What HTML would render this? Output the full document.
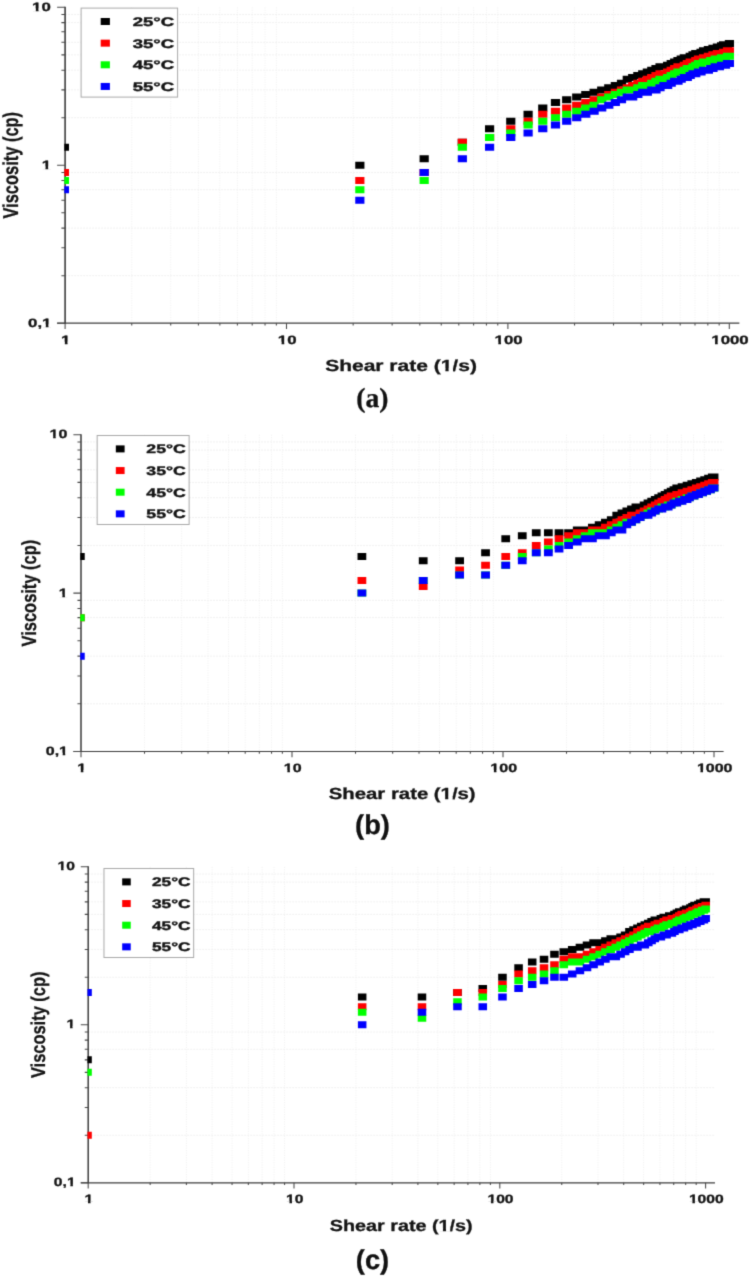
<!DOCTYPE html>
<html lang="en"><head><meta charset="utf-8">
<title>Viscosity versus shear rate</title>
<style>html,body{margin:0;padding:0;background:#fff}body{width:750px;height:1278px;overflow:hidden}svg{display:block}text{text-rendering:geometricPrecision}</style>
</head><body>
<svg width="750" height="1278" viewBox="0 0 750 1278" role="img" aria-label="Viscosity versus shear rate at 25, 35, 45 and 55 degrees C">
<defs><filter id="soft" x="0" y="0" width="750" height="1278" filterUnits="userSpaceOnUse" color-interpolation-filters="sRGB"><feConvolveMatrix order="3" kernelMatrix="0.0367 0.1915 0.0367 0.1915 1.0000 0.1915 0.0367 0.1915 0.0367" divisor="1.9127" edgeMode="duplicate" preserveAlpha="true"/></filter></defs>
<g filter="url(#soft)">
<rect width="750" height="1278" fill="#ffffff"/>
<g id="panel-a">
<path d="M131.75 7.3V323.2M170.73 7.3V323.2M198.4 7.3V323.2M219.85 7.3V323.2M237.38 7.3V323.2M252.2 7.3V323.2M265.04 7.3V323.2M276.37 7.3V323.2M353.15 7.3V323.2M392.13 7.3V323.2M419.8 7.3V323.2M441.25 7.3V323.2M458.78 7.3V323.2M473.6 7.3V323.2M486.44 7.3V323.2M497.77 7.3V323.2M574.55 7.3V323.2M613.53 7.3V323.2M641.2 7.3V323.2M662.65 7.3V323.2M680.18 7.3V323.2M695 7.3V323.2M707.84 7.3V323.2M719.17 7.3V323.2" stroke="#f2f2f2" stroke-width="1" stroke-dasharray="1.2 1.2" fill="none"/>
<path d="M65.1 14.53H739.37M65.1 22.61H739.37M65.1 42.34H739.37M65.1 54.85H739.37M65.1 70.15H739.37M65.1 89.89H739.37M65.1 117.7H739.37M65.1 172.48H739.37M65.1 189.72H739.37M65.1 228.1H739.37M65.1 275.65H739.37" stroke="#f1f1f1" stroke-width="1" stroke-dasharray="2 1" fill="none"/>
<path d="M65.1 6.8V323.7" stroke="#3c3c3c" stroke-width="1.6" fill="none"/>
<path d="M57.1 323.2H739.37" stroke="#3c3c3c" stroke-width="1.2" fill="none"/>
<path d="M65.1 323.2h-8M65.1 275.65h-3.7M65.1 247.84h-3.7M65.1 228.1h-3.7M65.1 212.8h-3.7M65.1 200.29h-3.7M65.1 189.72h-3.7M65.1 180.56h-3.7M65.1 172.48h-3.7M65.1 165.25h-8M65.1 117.7h-3.7M65.1 89.89h-3.7M65.1 70.15h-3.7M65.1 54.85h-3.7M65.1 42.34h-3.7M65.1 31.77h-3.7M65.1 22.61h-3.7M65.1 14.53h-3.7M65.1 7.3h-8M65.1 323.2v5.8M131.75 323.2v2.3M170.73 323.2v2.3M198.4 323.2v2.3M219.85 323.2v2.3M237.38 323.2v2.3M252.2 323.2v2.3M265.04 323.2v2.3M276.37 323.2v2.3M286.5 323.2v5.8M353.15 323.2v2.3M392.13 323.2v2.3M419.8 323.2v2.3M441.25 323.2v2.3M458.78 323.2v2.3M473.6 323.2v2.3M486.44 323.2v2.3M497.77 323.2v2.3M507.9 323.2v5.8M574.55 323.2v2.3M613.53 323.2v2.3M641.2 323.2v2.3M662.65 323.2v2.3M680.18 323.2v2.3M695 323.2v2.3M707.84 323.2v2.3M719.17 323.2v2.3M729.3 323.2v5.8" stroke="#484848" stroke-width="1.05" fill="none"/>
<clipPath id="clip-a"><rect x="64.3" y="-2.7" width="704.27" height="325.9"/></clipPath>
<g clip-path="url(#clip-a)">
<path d="M59.8 143.75h9.2v7h-9.2zM355.24 161.75h9.2v7h-9.2zM419.58 155.21h9.2v7h-9.2zM457.75 138.67h9.2v7h-9.2zM484.98 125.35h9.2v7h-9.2zM506.17 117.72h9.2v7h-9.2zM523.5 110.86h9.2v7h-9.2zM538.17 104.62h9.2v7h-9.2zM550.88 98.9h9.2v7h-9.2zM562.1 96.2h9.2v7h-9.2zM572.13 93.62h9.2v7h-9.2zM581.21 91.12h9.2v7h-9.2zM589.5 88.71h9.2v7h-9.2zM597.13 86.39h9.2v7h-9.2zM604.18 84.14h9.2v7h-9.2zM610.75 81.96h9.2v7h-9.2zM616.9 79.85h9.2v7h-9.2zM622.67 75.81h9.2v7h-9.2zM628.1 73.88h9.2v7h-9.2zM633.25 72h9.2v7h-9.2zM638.12 70.17h9.2v7h-9.2zM642.76 68.39h9.2v7h-9.2zM647.18 66.65h9.2v7h-9.2zM651.4 64.96h9.2v7h-9.2zM655.44 63.31h9.2v7h-9.2zM659.32 63.31h9.2v7h-9.2zM663.04 61.69h9.2v7h-9.2zM666.62 60.12h9.2v7h-9.2zM670.07 58.58h9.2v7h-9.2zM673.39 57.07h9.2v7h-9.2zM676.6 55.59h9.2v7h-9.2zM679.71 54.15h9.2v7h-9.2zM682.71 54.15h9.2v7h-9.2zM685.62 52.73h9.2v7h-9.2zM688.45 51.35h9.2v7h-9.2zM691.19 49.99h9.2v7h-9.2zM693.85 49.99h9.2v7h-9.2zM696.44 48.66h9.2v7h-9.2zM698.96 47.35h9.2v7h-9.2zM701.41 47.35h9.2v7h-9.2zM703.8 46.07h9.2v7h-9.2zM706.12 46.07h9.2v7h-9.2zM708.39 44.81h9.2v7h-9.2zM710.61 44.81h9.2v7h-9.2zM712.78 43.57h9.2v7h-9.2zM714.89 43.57h9.2v7h-9.2zM716.96 42.36h9.2v7h-9.2zM718.98 41.17h9.2v7h-9.2zM720.96 41.17h9.2v7h-9.2zM722.9 41.17h9.2v7h-9.2zM724.8 39.99h9.2v7h-9.2z" fill="#000000"/>
<path d="M59.8 168.98h9.2v7h-9.2zM355.24 177.06h9.2v7h-9.2zM419.58 168.98h9.2v7h-9.2zM457.75 138.67h9.2v7h-9.2zM484.98 133.94h9.2v7h-9.2zM506.17 125.35h9.2v7h-9.2zM523.5 117.72h9.2v7h-9.2zM538.17 110.86h9.2v7h-9.2zM550.88 107.66h9.2v7h-9.2zM562.1 104.62h9.2v7h-9.2zM572.13 101.7h9.2v7h-9.2zM581.21 98.9h9.2v7h-9.2zM589.5 96.2h9.2v7h-9.2zM597.13 93.62h9.2v7h-9.2zM604.18 91.12h9.2v7h-9.2zM610.75 88.71h9.2v7h-9.2zM616.9 86.39h9.2v7h-9.2zM622.67 84.14h9.2v7h-9.2zM628.1 81.96h9.2v7h-9.2zM633.25 79.85h9.2v7h-9.2zM638.12 77.8h9.2v7h-9.2zM642.76 75.81h9.2v7h-9.2zM647.18 73.88h9.2v7h-9.2zM651.4 72h9.2v7h-9.2zM655.44 70.17h9.2v7h-9.2zM659.32 70.17h9.2v7h-9.2zM663.04 68.39h9.2v7h-9.2zM666.62 66.65h9.2v7h-9.2zM670.07 64.96h9.2v7h-9.2zM673.39 63.31h9.2v7h-9.2zM676.6 63.31h9.2v7h-9.2zM679.71 61.69h9.2v7h-9.2zM682.71 60.12h9.2v7h-9.2zM685.62 58.58h9.2v7h-9.2zM688.45 58.58h9.2v7h-9.2zM691.19 57.07h9.2v7h-9.2zM693.85 55.59h9.2v7h-9.2zM696.44 55.59h9.2v7h-9.2zM698.96 54.15h9.2v7h-9.2zM701.41 54.15h9.2v7h-9.2zM703.8 52.73h9.2v7h-9.2zM706.12 52.73h9.2v7h-9.2zM708.39 51.35h9.2v7h-9.2zM710.61 51.35h9.2v7h-9.2zM712.78 49.99h9.2v7h-9.2zM714.89 49.99h9.2v7h-9.2zM716.96 49.99h9.2v7h-9.2zM718.98 48.66h9.2v7h-9.2zM720.96 48.66h9.2v7h-9.2zM722.9 47.35h9.2v7h-9.2zM724.8 47.35h9.2v7h-9.2z" fill="#ff0000"/>
<path d="M59.8 177.06h9.2v7h-9.2zM355.24 186.22h9.2v7h-9.2zM419.58 177.06h9.2v7h-9.2zM457.75 143.75h9.2v7h-9.2zM484.98 133.94h9.2v7h-9.2zM506.17 129.51h9.2v7h-9.2zM523.5 121.43h9.2v7h-9.2zM538.17 117.72h9.2v7h-9.2zM550.88 114.2h9.2v7h-9.2zM562.1 110.86h9.2v7h-9.2zM572.13 107.66h9.2v7h-9.2zM581.21 104.62h9.2v7h-9.2zM589.5 101.7h9.2v7h-9.2zM597.13 96.2h9.2v7h-9.2zM604.18 93.62h9.2v7h-9.2zM610.75 91.12h9.2v7h-9.2zM616.9 88.71h9.2v7h-9.2zM622.67 86.39h9.2v7h-9.2zM628.1 86.39h9.2v7h-9.2zM633.25 84.14h9.2v7h-9.2zM638.12 81.96h9.2v7h-9.2zM642.76 81.96h9.2v7h-9.2zM647.18 79.85h9.2v7h-9.2zM651.4 77.8h9.2v7h-9.2zM655.44 75.81h9.2v7h-9.2zM659.32 75.81h9.2v7h-9.2zM663.04 73.88h9.2v7h-9.2zM666.62 72h9.2v7h-9.2zM670.07 70.17h9.2v7h-9.2zM673.39 68.39h9.2v7h-9.2zM676.6 68.39h9.2v7h-9.2zM679.71 66.65h9.2v7h-9.2zM682.71 64.96h9.2v7h-9.2zM685.62 64.96h9.2v7h-9.2zM688.45 63.31h9.2v7h-9.2zM691.19 61.69h9.2v7h-9.2zM693.85 60.12h9.2v7h-9.2zM696.44 60.12h9.2v7h-9.2zM698.96 58.58h9.2v7h-9.2zM701.41 58.58h9.2v7h-9.2zM703.8 58.58h9.2v7h-9.2zM706.12 57.07h9.2v7h-9.2zM708.39 57.07h9.2v7h-9.2zM710.61 55.59h9.2v7h-9.2zM712.78 55.59h9.2v7h-9.2zM714.89 55.59h9.2v7h-9.2zM716.96 54.15h9.2v7h-9.2zM718.98 54.15h9.2v7h-9.2zM720.96 54.15h9.2v7h-9.2zM722.9 52.73h9.2v7h-9.2zM724.8 52.73h9.2v7h-9.2z" fill="#00ff00"/>
<path d="M59.8 186.22h9.2v7h-9.2zM355.24 196.79h9.2v7h-9.2zM419.58 168.98h9.2v7h-9.2zM457.75 155.21h9.2v7h-9.2zM484.98 143.75h9.2v7h-9.2zM506.17 133.94h9.2v7h-9.2zM523.5 129.51h9.2v7h-9.2zM538.17 125.35h9.2v7h-9.2zM550.88 121.43h9.2v7h-9.2zM562.1 117.72h9.2v7h-9.2zM572.13 114.2h9.2v7h-9.2zM581.21 110.86h9.2v7h-9.2zM589.5 107.66h9.2v7h-9.2zM597.13 104.62h9.2v7h-9.2zM604.18 101.7h9.2v7h-9.2zM610.75 98.9h9.2v7h-9.2zM616.9 96.2h9.2v7h-9.2zM622.67 93.62h9.2v7h-9.2zM628.1 93.62h9.2v7h-9.2zM633.25 91.12h9.2v7h-9.2zM638.12 88.71h9.2v7h-9.2zM642.76 88.71h9.2v7h-9.2zM647.18 86.39h9.2v7h-9.2zM651.4 86.39h9.2v7h-9.2zM655.44 84.14h9.2v7h-9.2zM659.32 81.96h9.2v7h-9.2zM663.04 81.96h9.2v7h-9.2zM666.62 79.85h9.2v7h-9.2zM670.07 77.8h9.2v7h-9.2zM673.39 77.8h9.2v7h-9.2zM676.6 75.81h9.2v7h-9.2zM679.71 73.88h9.2v7h-9.2zM682.71 73.88h9.2v7h-9.2zM685.62 72h9.2v7h-9.2zM688.45 70.17h9.2v7h-9.2zM691.19 70.17h9.2v7h-9.2zM693.85 68.39h9.2v7h-9.2zM696.44 68.39h9.2v7h-9.2zM698.96 66.65h9.2v7h-9.2zM701.41 66.65h9.2v7h-9.2zM703.8 66.65h9.2v7h-9.2zM706.12 64.96h9.2v7h-9.2zM708.39 64.96h9.2v7h-9.2zM710.61 63.31h9.2v7h-9.2zM712.78 63.31h9.2v7h-9.2zM714.89 63.31h9.2v7h-9.2zM716.96 61.69h9.2v7h-9.2zM718.98 61.69h9.2v7h-9.2zM720.96 61.69h9.2v7h-9.2zM722.9 60.12h9.2v7h-9.2zM724.8 60.12h9.2v7h-9.2z" fill="#0000ff"/>
</g>
<text transform="translate(50.8 10.7) scale(1.4 1)" font-family='"Liberation Sans", Arial, Helvetica, sans-serif' font-size="12" font-weight="700" text-anchor="end" fill="#141414" stroke="#141414" stroke-width="0.3" stroke-linejoin="round">10</text><path transform="translate(50.8 10.7) scale(1.4 1)" d="M-13.54 -2.12H-10.70V1.15H-13.54zM-8.75 -2.12H-6.06V1.15H-8.75z" fill="#ffffff"/>
<text transform="translate(51.1 168.65) scale(1.4 1)" font-family='"Liberation Sans", Arial, Helvetica, sans-serif' font-size="12" font-weight="700" text-anchor="end" fill="#141414" stroke="#141414" stroke-width="0.3" stroke-linejoin="round">1</text><path transform="translate(51.1 168.65) scale(1.4 1)" d="M-6.87 -2.12H-4.02V1.15H-6.87zM-2.08 -2.12H0.62V1.15H-2.08z" fill="#ffffff"/>
<text transform="translate(51.4 326.6) scale(1.4 1)" font-family='"Liberation Sans", Arial, Helvetica, sans-serif' font-size="12" font-weight="700" text-anchor="end" fill="#141414" stroke="#141414" stroke-width="0.3" stroke-linejoin="round">0,1</text><path transform="translate(51.4 326.6) scale(1.4 1)" d="M-6.87 -2.12H-4.02V1.15H-6.87zM-2.08 -2.12H0.62V1.15H-2.08z" fill="#ffffff"/>
<text transform="translate(65.8 343.75) scale(1.4 1)" font-family='"Liberation Sans", Arial, Helvetica, sans-serif' font-size="12" font-weight="700" text-anchor="middle" fill="#141414" stroke="#141414" stroke-width="0.3" stroke-linejoin="round">1</text><path transform="translate(65.8 343.75) scale(1.4 1)" d="M-3.53 -2.12H-0.69V1.15H-3.53zM1.26 -2.12H3.95V1.15H1.26z" fill="#ffffff"/>
<text transform="translate(287.2 343.75) scale(1.4 1)" font-family='"Liberation Sans", Arial, Helvetica, sans-serif' font-size="12" font-weight="700" text-anchor="middle" fill="#141414" stroke="#141414" stroke-width="0.3" stroke-linejoin="round">10</text><path transform="translate(287.2 343.75) scale(1.4 1)" d="M-6.87 -2.12H-4.02V1.15H-6.87zM-2.08 -2.12H0.62V1.15H-2.08z" fill="#ffffff"/>
<text transform="translate(508.6 343.75) scale(1.4 1)" font-family='"Liberation Sans", Arial, Helvetica, sans-serif' font-size="12" font-weight="700" text-anchor="middle" fill="#141414" stroke="#141414" stroke-width="0.3" stroke-linejoin="round">100</text><path transform="translate(508.6 343.75) scale(1.4 1)" d="M-10.20 -2.12H-7.36V1.15H-10.20zM-5.41 -2.12H-2.72V1.15H-5.41z" fill="#ffffff"/>
<text transform="translate(730 343.75) scale(1.4 1)" font-family='"Liberation Sans", Arial, Helvetica, sans-serif' font-size="12" font-weight="700" text-anchor="middle" fill="#141414" stroke="#141414" stroke-width="0.3" stroke-linejoin="round">1000</text><path transform="translate(730 343.75) scale(1.4 1)" d="M-13.54 -2.12H-10.70V1.15H-13.54zM-8.75 -2.12H-6.06V1.15H-8.75z" fill="#ffffff"/>
<text transform="translate(401 371.1) scale(1.3125 1)" font-family='"Liberation Sans", Arial, Helvetica, sans-serif' font-size="16" font-weight="700" text-anchor="middle" fill="#141414" stroke="#141414" stroke-width="0.3" stroke-linejoin="round">Shear rate (1/s)</text><path transform="translate(401 371.1) scale(1.3125 1)" d="M30.29 -2.53H33.82V1.15H30.29zM36.31 -2.53H39.64V1.15H36.31z" fill="#ffffff"/>
<text transform="translate(18.1 165.25) rotate(-90) scale(1 1.31)" font-family='"Liberation Sans", Arial, Helvetica, sans-serif' font-size="16.45" font-weight="700" text-anchor="middle" fill="#141414" stroke="#141414" stroke-width="0.25" stroke-linejoin="round">Viscosity (cp)</text>
<rect x="81.1" y="8.1" width="96.5" height="89" fill="#ffffff" stroke="#a9a9a9" stroke-width="1"/>
<rect x="100.7" y="18" width="9.2" height="7" fill="#000000"/>
<text transform="translate(132.7 25.9) scale(1.498 1)" font-family='"Liberation Sans", Arial, Helvetica, sans-serif' font-size="12.4" font-weight="700" text-anchor="start" fill="#141414" stroke="#141414" stroke-width="0.4" stroke-linejoin="round">25°C</text>
<rect x="100.7" y="39.65" width="9.2" height="7" fill="#ff0000"/>
<text transform="translate(132.7 47.55) scale(1.498 1)" font-family='"Liberation Sans", Arial, Helvetica, sans-serif' font-size="12.4" font-weight="700" text-anchor="start" fill="#141414" stroke="#141414" stroke-width="0.4" stroke-linejoin="round">35°C</text>
<rect x="100.7" y="61.3" width="9.2" height="7" fill="#00ff00"/>
<text transform="translate(132.7 69.2) scale(1.498 1)" font-family='"Liberation Sans", Arial, Helvetica, sans-serif' font-size="12.4" font-weight="700" text-anchor="start" fill="#141414" stroke="#141414" stroke-width="0.4" stroke-linejoin="round">45°C</text>
<rect x="100.7" y="82.95" width="9.2" height="7" fill="#0000ff"/>
<text transform="translate(132.7 90.85) scale(1.498 1)" font-family='"Liberation Sans", Arial, Helvetica, sans-serif' font-size="12.4" font-weight="700" text-anchor="start" fill="#141414" stroke="#141414" stroke-width="0.4" stroke-linejoin="round">55°C</text>
<text transform="translate(372.4 407.1)" font-family='"Liberation Serif", "Times New Roman", Times, serif' font-size="27.6" font-weight="700" text-anchor="middle" fill="#111" stroke="#111" stroke-width="0.3" stroke-linejoin="round">(a)</text>
</g>
<g id="panel-b">
<path d="M144.52 434.7V751.5M181.67 434.7V751.5M208.03 434.7V751.5M228.48 434.7V751.5M245.19 434.7V751.5M259.32 434.7V751.5M271.55 434.7V751.5M282.35 434.7V751.5M355.52 434.7V751.5M392.67 434.7V751.5M419.03 434.7V751.5M439.48 434.7V751.5M456.19 434.7V751.5M470.32 434.7V751.5M482.55 434.7V751.5M493.35 434.7V751.5M566.52 434.7V751.5M603.67 434.7V751.5M630.03 434.7V751.5M650.48 434.7V751.5M667.19 434.7V751.5M681.32 434.7V751.5M693.55 434.7V751.5M704.35 434.7V751.5" stroke="#f2f2f2" stroke-width="1" stroke-dasharray="1.2 1.2" fill="none"/>
<path d="M81 441.95H723.6M81 450.05H723.6M81 469.84H723.6M81 482.38H723.6M81 497.73H723.6M81 517.52H723.6M81 545.42H723.6M81 600.35H723.6M81 617.64H723.6M81 656.13H723.6M81 703.82H723.6" stroke="#f1f1f1" stroke-width="1" stroke-dasharray="2 1" fill="none"/>
<path d="M81 434.2V752" stroke="#3c3c3c" stroke-width="1.52" fill="none"/>
<path d="M73.38 751.5H723.6" stroke="#3c3c3c" stroke-width="1.2" fill="none"/>
<path d="M81 751.5h-7.62M81 703.82h-3.53M81 675.92h-3.53M81 656.13h-3.53M81 640.78h-3.53M81 628.24h-3.53M81 617.64h-3.53M81 608.45h-3.53M81 600.35h-3.53M81 593.1h-7.62M81 545.42h-3.53M81 517.52h-3.53M81 497.73h-3.53M81 482.38h-3.53M81 469.84h-3.53M81 459.24h-3.53M81 450.05h-3.53M81 441.95h-3.53M81 434.7h-7.62M81 751.5v5.8M144.52 751.5v2.3M181.67 751.5v2.3M208.03 751.5v2.3M228.48 751.5v2.3M245.19 751.5v2.3M259.32 751.5v2.3M271.55 751.5v2.3M282.35 751.5v2.3M292 751.5v5.8M355.52 751.5v2.3M392.67 751.5v2.3M419.03 751.5v2.3M439.48 751.5v2.3M456.19 751.5v2.3M470.32 751.5v2.3M482.55 751.5v2.3M493.35 751.5v2.3M503 751.5v5.8M566.52 751.5v2.3M603.67 751.5v2.3M630.03 751.5v2.3M650.48 751.5v2.3M667.19 751.5v2.3M681.32 751.5v2.3M693.55 751.5v2.3M704.35 751.5v2.3M714 751.5v5.8" stroke="#484848" stroke-width="1.05" fill="none"/>
<clipPath id="clip-b"><rect x="80.24" y="424.7" width="672.6" height="326.8"/></clipPath>
<g clip-path="url(#clip-b)">
<path d="M75.95 553.1h8.77v7h-8.77zM357.51 553.1h8.77v7h-8.77zM418.82 557.27h8.77v7h-8.77zM455.21 557.27h8.77v7h-8.77zM481.16 549.16h8.77v7h-8.77zM501.35 535.36h8.77v7h-8.77zM517.87 532.3h8.77v7h-8.77zM531.85 529.37h8.77v7h-8.77zM543.96 529.37h8.77v7h-8.77zM554.65 529.37h8.77v7h-8.77zM564.22 529.37h8.77v7h-8.77zM572.87 526.57h8.77v7h-8.77zM580.77 526.57h8.77v7h-8.77zM588.03 523.87h8.77v7h-8.77zM594.76 521.27h8.77v7h-8.77zM601.02 518.77h8.77v7h-8.77zM606.88 516.36h8.77v7h-8.77zM612.37 511.77h8.77v7h-8.77zM617.56 509.58h8.77v7h-8.77zM622.46 507.47h8.77v7h-8.77zM627.11 505.41h8.77v7h-8.77zM631.52 503.42h8.77v7h-8.77zM635.74 503.42h8.77v7h-8.77zM639.76 501.48h8.77v7h-8.77zM643.61 499.6h8.77v7h-8.77zM647.3 497.76h8.77v7h-8.77zM650.85 495.98h8.77v7h-8.77zM654.26 494.23h8.77v7h-8.77zM657.55 492.54h8.77v7h-8.77zM660.72 490.88h8.77v7h-8.77zM663.78 489.26h8.77v7h-8.77zM666.74 487.68h8.77v7h-8.77zM669.6 486.13h8.77v7h-8.77zM672.38 484.62h8.77v7h-8.77zM675.07 484.62h8.77v7h-8.77zM677.68 483.14h8.77v7h-8.77zM680.22 483.14h8.77v7h-8.77zM682.68 481.69h8.77v7h-8.77zM685.08 481.69h8.77v7h-8.77zM687.42 480.27h8.77v7h-8.77zM689.69 480.27h8.77v7h-8.77zM691.91 478.88h8.77v7h-8.77zM694.08 478.88h8.77v7h-8.77zM696.19 477.52h8.77v7h-8.77zM698.25 477.52h8.77v7h-8.77zM700.27 476.19h8.77v7h-8.77zM702.24 476.19h8.77v7h-8.77zM704.17 474.87h8.77v7h-8.77zM706.05 474.87h8.77v7h-8.77zM707.9 473.59h8.77v7h-8.77zM709.71 473.59h8.77v7h-8.77z" fill="#000000"/>
<path d="M75.95 614.14h8.77v7h-8.77zM357.51 577.06h8.77v7h-8.77zM418.82 583.04h8.77v7h-8.77zM455.21 566.45h8.77v7h-8.77zM481.16 561.71h8.77v7h-8.77zM501.35 553.1h8.77v7h-8.77zM517.87 549.16h8.77v7h-8.77zM531.85 541.92h8.77v7h-8.77zM543.96 538.56h8.77v7h-8.77zM554.65 535.36h8.77v7h-8.77zM564.22 532.3h8.77v7h-8.77zM572.87 529.37h8.77v7h-8.77zM580.77 529.37h8.77v7h-8.77zM588.03 526.57h8.77v7h-8.77zM594.76 526.57h8.77v7h-8.77zM601.02 523.87h8.77v7h-8.77zM606.88 521.27h8.77v7h-8.77zM612.37 518.77h8.77v7h-8.77zM617.56 516.36h8.77v7h-8.77zM622.46 514.02h8.77v7h-8.77zM627.11 511.77h8.77v7h-8.77zM631.52 511.77h8.77v7h-8.77zM635.74 509.58h8.77v7h-8.77zM639.76 507.47h8.77v7h-8.77zM643.61 505.41h8.77v7h-8.77zM647.3 503.42h8.77v7h-8.77zM650.85 501.48h8.77v7h-8.77zM654.26 499.6h8.77v7h-8.77zM657.55 497.76h8.77v7h-8.77zM660.72 495.98h8.77v7h-8.77zM663.78 494.23h8.77v7h-8.77zM666.74 492.54h8.77v7h-8.77zM669.6 492.54h8.77v7h-8.77zM672.38 490.88h8.77v7h-8.77zM675.07 490.88h8.77v7h-8.77zM677.68 489.26h8.77v7h-8.77zM680.22 489.26h8.77v7h-8.77zM682.68 487.68h8.77v7h-8.77zM685.08 487.68h8.77v7h-8.77zM687.42 486.13h8.77v7h-8.77zM689.69 486.13h8.77v7h-8.77zM691.91 484.62h8.77v7h-8.77zM694.08 484.62h8.77v7h-8.77zM696.19 483.14h8.77v7h-8.77zM698.25 483.14h8.77v7h-8.77zM700.27 481.69h8.77v7h-8.77zM702.24 481.69h8.77v7h-8.77zM704.17 480.27h8.77v7h-8.77zM706.05 480.27h8.77v7h-8.77zM707.9 478.88h8.77v7h-8.77zM709.71 478.88h8.77v7h-8.77z" fill="#ff0000"/>
<path d="M75.95 614.14h8.77v7h-8.77zM357.51 589.6h8.77v7h-8.77zM418.82 577.06h8.77v7h-8.77zM455.21 571.55h8.77v7h-8.77zM481.16 571.55h8.77v7h-8.77zM501.35 561.71h8.77v7h-8.77zM517.87 553.1h8.77v7h-8.77zM531.85 549.16h8.77v7h-8.77zM543.96 545.45h8.77v7h-8.77zM554.65 541.92h8.77v7h-8.77zM564.22 538.56h8.77v7h-8.77zM572.87 535.36h8.77v7h-8.77zM580.77 532.3h8.77v7h-8.77zM588.03 529.37h8.77v7h-8.77zM594.76 529.37h8.77v7h-8.77zM601.02 529.37h8.77v7h-8.77zM606.88 526.57h8.77v7h-8.77zM612.37 523.87h8.77v7h-8.77zM617.56 521.27h8.77v7h-8.77zM622.46 518.77h8.77v7h-8.77zM627.11 518.77h8.77v7h-8.77zM631.52 516.36h8.77v7h-8.77zM635.74 514.02h8.77v7h-8.77zM639.76 511.77h8.77v7h-8.77zM643.61 509.58h8.77v7h-8.77zM647.3 507.47h8.77v7h-8.77zM650.85 507.47h8.77v7h-8.77zM654.26 505.41h8.77v7h-8.77zM657.55 503.42h8.77v7h-8.77zM660.72 503.42h8.77v7h-8.77zM663.78 501.48h8.77v7h-8.77zM666.74 501.48h8.77v7h-8.77zM669.6 499.6h8.77v7h-8.77zM672.38 497.76h8.77v7h-8.77zM675.07 497.76h8.77v7h-8.77zM677.68 495.98h8.77v7h-8.77zM680.22 495.98h8.77v7h-8.77zM682.68 494.23h8.77v7h-8.77zM685.08 494.23h8.77v7h-8.77zM687.42 492.54h8.77v7h-8.77zM689.69 492.54h8.77v7h-8.77zM691.91 490.88h8.77v7h-8.77zM694.08 490.88h8.77v7h-8.77zM696.19 489.26h8.77v7h-8.77zM698.25 489.26h8.77v7h-8.77zM700.27 487.68h8.77v7h-8.77zM702.24 487.68h8.77v7h-8.77zM704.17 486.13h8.77v7h-8.77zM706.05 486.13h8.77v7h-8.77zM707.9 484.62h8.77v7h-8.77zM709.71 484.62h8.77v7h-8.77z" fill="#00ff00"/>
<path d="M75.95 652.63h8.77v7h-8.77zM357.51 589.6h8.77v7h-8.77zM418.82 577.06h8.77v7h-8.77zM455.21 571.55h8.77v7h-8.77zM481.16 571.55h8.77v7h-8.77zM501.35 561.71h8.77v7h-8.77zM517.87 557.27h8.77v7h-8.77zM531.85 549.16h8.77v7h-8.77zM543.96 549.16h8.77v7h-8.77zM554.65 545.45h8.77v7h-8.77zM564.22 541.92h8.77v7h-8.77zM572.87 538.56h8.77v7h-8.77zM580.77 535.36h8.77v7h-8.77zM588.03 535.36h8.77v7h-8.77zM594.76 532.3h8.77v7h-8.77zM601.02 532.3h8.77v7h-8.77zM606.88 529.37h8.77v7h-8.77zM612.37 526.57h8.77v7h-8.77zM617.56 526.57h8.77v7h-8.77zM622.46 521.27h8.77v7h-8.77zM627.11 518.77h8.77v7h-8.77zM631.52 516.36h8.77v7h-8.77zM635.74 514.02h8.77v7h-8.77zM639.76 511.77h8.77v7h-8.77zM643.61 511.77h8.77v7h-8.77zM647.3 509.58h8.77v7h-8.77zM650.85 507.47h8.77v7h-8.77zM654.26 505.41h8.77v7h-8.77zM657.55 505.41h8.77v7h-8.77zM660.72 503.42h8.77v7h-8.77zM663.78 503.42h8.77v7h-8.77zM666.74 501.48h8.77v7h-8.77zM669.6 499.6h8.77v7h-8.77zM672.38 499.6h8.77v7h-8.77zM675.07 497.76h8.77v7h-8.77zM677.68 497.76h8.77v7h-8.77zM680.22 495.98h8.77v7h-8.77zM682.68 495.98h8.77v7h-8.77zM685.08 494.23h8.77v7h-8.77zM687.42 492.54h8.77v7h-8.77zM689.69 492.54h8.77v7h-8.77zM691.91 490.88h8.77v7h-8.77zM694.08 490.88h8.77v7h-8.77zM696.19 489.26h8.77v7h-8.77zM698.25 489.26h8.77v7h-8.77zM700.27 487.68h8.77v7h-8.77zM702.24 487.68h8.77v7h-8.77zM704.17 486.13h8.77v7h-8.77zM706.05 486.13h8.77v7h-8.77zM707.9 484.62h8.77v7h-8.77zM709.71 484.62h8.77v7h-8.77z" fill="#0000ff"/>
</g>
<text transform="translate(67.42 438.1) scale(1.3342 1)" font-family='"Liberation Sans", Arial, Helvetica, sans-serif' font-size="12" font-weight="700" text-anchor="end" fill="#141414" stroke="#141414" stroke-width="0.3" stroke-linejoin="round">10</text><path transform="translate(67.42 438.1) scale(1.3342 1)" d="M-13.54 -2.12H-10.70V1.15H-13.54zM-8.75 -2.12H-6.06V1.15H-8.75z" fill="#ffffff"/>
<text transform="translate(67.72 596.5) scale(1.3342 1)" font-family='"Liberation Sans", Arial, Helvetica, sans-serif' font-size="12" font-weight="700" text-anchor="end" fill="#141414" stroke="#141414" stroke-width="0.3" stroke-linejoin="round">1</text><path transform="translate(67.72 596.5) scale(1.3342 1)" d="M-6.87 -2.12H-4.02V1.15H-6.87zM-2.08 -2.12H0.62V1.15H-2.08z" fill="#ffffff"/>
<text transform="translate(68.02 754.9) scale(1.3342 1)" font-family='"Liberation Sans", Arial, Helvetica, sans-serif' font-size="12" font-weight="700" text-anchor="end" fill="#141414" stroke="#141414" stroke-width="0.3" stroke-linejoin="round">0,1</text><path transform="translate(68.02 754.9) scale(1.3342 1)" d="M-6.87 -2.12H-4.02V1.15H-6.87zM-2.08 -2.12H0.62V1.15H-2.08z" fill="#ffffff"/>
<text transform="translate(81.7 772.05) scale(1.3342 1)" font-family='"Liberation Sans", Arial, Helvetica, sans-serif' font-size="12" font-weight="700" text-anchor="middle" fill="#141414" stroke="#141414" stroke-width="0.3" stroke-linejoin="round">1</text><path transform="translate(81.7 772.05) scale(1.3342 1)" d="M-3.53 -2.12H-0.69V1.15H-3.53zM1.26 -2.12H3.95V1.15H1.26z" fill="#ffffff"/>
<text transform="translate(292.7 772.05) scale(1.3342 1)" font-family='"Liberation Sans", Arial, Helvetica, sans-serif' font-size="12" font-weight="700" text-anchor="middle" fill="#141414" stroke="#141414" stroke-width="0.3" stroke-linejoin="round">10</text><path transform="translate(292.7 772.05) scale(1.3342 1)" d="M-6.87 -2.12H-4.02V1.15H-6.87zM-2.08 -2.12H0.62V1.15H-2.08z" fill="#ffffff"/>
<text transform="translate(503.7 772.05) scale(1.3342 1)" font-family='"Liberation Sans", Arial, Helvetica, sans-serif' font-size="12" font-weight="700" text-anchor="middle" fill="#141414" stroke="#141414" stroke-width="0.3" stroke-linejoin="round">100</text><path transform="translate(503.7 772.05) scale(1.3342 1)" d="M-10.20 -2.12H-7.36V1.15H-10.20zM-5.41 -2.12H-2.72V1.15H-5.41z" fill="#ffffff"/>
<text transform="translate(714.7 772.05) scale(1.3342 1)" font-family='"Liberation Sans", Arial, Helvetica, sans-serif' font-size="12" font-weight="700" text-anchor="middle" fill="#141414" stroke="#141414" stroke-width="0.3" stroke-linejoin="round">1000</text><path transform="translate(714.7 772.05) scale(1.3342 1)" d="M-13.54 -2.12H-10.70V1.15H-13.54zM-8.75 -2.12H-6.06V1.15H-8.75z" fill="#ffffff"/>
<text transform="translate(402.2 799.4) scale(1.2696 1)" font-family='"Liberation Sans", Arial, Helvetica, sans-serif' font-size="16" font-weight="700" text-anchor="middle" fill="#141414" stroke="#141414" stroke-width="0.3" stroke-linejoin="round">Shear rate (1/s)</text><path transform="translate(402.2 799.4) scale(1.2696 1)" d="M30.29 -2.53H33.82V1.15H30.29zM36.31 -2.53H39.64V1.15H36.31z" fill="#ffffff"/>
<text transform="translate(36.21 593.1) rotate(-90) scale(1 1.2485)" font-family='"Liberation Sans", Arial, Helvetica, sans-serif' font-size="16.45" font-weight="700" text-anchor="middle" fill="#141414" stroke="#141414" stroke-width="0.25" stroke-linejoin="round">Viscosity (cp)</text>
<rect x="97.15" y="435.5" width="91.97" height="89" fill="#ffffff" stroke="#a9a9a9" stroke-width="1"/>
<rect x="115.83" y="445.4" width="8.77" height="7" fill="#000000"/>
<text transform="translate(146.32 453.3) scale(1.4276 1)" font-family='"Liberation Sans", Arial, Helvetica, sans-serif' font-size="12.4" font-weight="700" text-anchor="start" fill="#141414" stroke="#141414" stroke-width="0.4" stroke-linejoin="round">25°C</text>
<rect x="115.83" y="467.05" width="8.77" height="7" fill="#ff0000"/>
<text transform="translate(146.32 474.95) scale(1.4276 1)" font-family='"Liberation Sans", Arial, Helvetica, sans-serif' font-size="12.4" font-weight="700" text-anchor="start" fill="#141414" stroke="#141414" stroke-width="0.4" stroke-linejoin="round">35°C</text>
<rect x="115.83" y="488.7" width="8.77" height="7" fill="#00ff00"/>
<text transform="translate(146.32 496.6) scale(1.4276 1)" font-family='"Liberation Sans", Arial, Helvetica, sans-serif' font-size="12.4" font-weight="700" text-anchor="start" fill="#141414" stroke="#141414" stroke-width="0.4" stroke-linejoin="round">45°C</text>
<rect x="115.83" y="510.35" width="8.77" height="7" fill="#0000ff"/>
<text transform="translate(146.32 518.25) scale(1.4276 1)" font-family='"Liberation Sans", Arial, Helvetica, sans-serif' font-size="12.4" font-weight="700" text-anchor="start" fill="#141414" stroke="#141414" stroke-width="0.4" stroke-linejoin="round">55°C</text>
<text transform="translate(372.5 834.4)" font-family='"Liberation Sans", Arial, Helvetica, sans-serif' font-size="27.3" font-weight="700" text-anchor="middle" fill="#111" stroke="#111" stroke-width="0.3" stroke-linejoin="round">(b)</text>
</g>
<g id="panel-c">
<path d="M150.15 866.8V1182.8M186.39 866.8V1182.8M212.1 866.8V1182.8M232.05 866.8V1182.8M248.34 866.8V1182.8M262.12 866.8V1182.8M274.06 866.8V1182.8M284.58 866.8V1182.8M355.95 866.8V1182.8M392.19 866.8V1182.8M417.9 866.8V1182.8M437.85 866.8V1182.8M454.14 866.8V1182.8M467.92 866.8V1182.8M479.86 866.8V1182.8M490.38 866.8V1182.8M561.75 866.8V1182.8M597.99 866.8V1182.8M623.7 866.8V1182.8M643.65 866.8V1182.8M659.94 866.8V1182.8M673.72 866.8V1182.8M685.66 866.8V1182.8M696.18 866.8V1182.8" stroke="#f2f2f2" stroke-width="1" stroke-dasharray="1.2 1.2" fill="none"/>
<path d="M88.2 874.03H714.96M88.2 882.11H714.96M88.2 901.85H714.96M88.2 914.36H714.96M88.2 929.67H714.96M88.2 949.41H714.96M88.2 977.24H714.96M88.2 1032.03H714.96M88.2 1049.27H714.96M88.2 1087.67H714.96M88.2 1135.24H714.96" stroke="#f1f1f1" stroke-width="1" stroke-dasharray="2 1" fill="none"/>
<path d="M88.2 866.3V1183.3" stroke="#3c3c3c" stroke-width="1.49" fill="none"/>
<path d="M80.76 1182.8H714.96" stroke="#3c3c3c" stroke-width="1.2" fill="none"/>
<path d="M88.2 1182.8h-7.44M88.2 1135.24h-3.44M88.2 1107.41h-3.44M88.2 1087.67h-3.44M88.2 1072.36h-3.44M88.2 1059.85h-3.44M88.2 1049.27h-3.44M88.2 1040.11h-3.44M88.2 1032.03h-3.44M88.2 1024.8h-7.44M88.2 977.24h-3.44M88.2 949.41h-3.44M88.2 929.67h-3.44M88.2 914.36h-3.44M88.2 901.85h-3.44M88.2 891.27h-3.44M88.2 882.11h-3.44M88.2 874.03h-3.44M88.2 866.8h-7.44M88.2 1182.8v5.8M150.15 1182.8v2.3M186.39 1182.8v2.3M212.1 1182.8v2.3M232.05 1182.8v2.3M248.34 1182.8v2.3M262.12 1182.8v2.3M274.06 1182.8v2.3M284.58 1182.8v2.3M294 1182.8v5.8M355.95 1182.8v2.3M392.19 1182.8v2.3M417.9 1182.8v2.3M437.85 1182.8v2.3M454.14 1182.8v2.3M467.92 1182.8v2.3M479.86 1182.8v2.3M490.38 1182.8v2.3M499.8 1182.8v5.8M561.75 1182.8v2.3M597.99 1182.8v2.3M623.7 1182.8v2.3M643.65 1182.8v2.3M659.94 1182.8v2.3M673.72 1182.8v2.3M685.66 1182.8v2.3M696.18 1182.8v2.3M705.6 1182.8v5.8" stroke="#484848" stroke-width="1.05" fill="none"/>
<clipPath id="clip-c"><rect x="87.46" y="856.8" width="656.76" height="326"/></clipPath>
<g clip-path="url(#clip-c)">
<path d="M83.27 1056.35h8.55v7h-8.55zM357.89 993.48h8.55v7h-8.55zM417.7 993.48h8.55v7h-8.55zM453.19 989.05h8.55v7h-8.55zM478.5 984.89h8.55v7h-8.55zM498.19 973.74h8.55v7h-8.55zM514.3 964.15h8.55v7h-8.55zM527.93 958.43h8.55v7h-8.55zM539.75 955.73h8.55v7h-8.55zM550.18 950.65h8.55v7h-8.55zM559.51 948.24h8.55v7h-8.55zM567.95 945.91h8.55v7h-8.55zM575.65 943.66h8.55v7h-8.55zM582.74 941.49h8.55v7h-8.55zM589.3 939.37h8.55v7h-8.55zM595.41 939.37h8.55v7h-8.55zM601.12 937.33h8.55v7h-8.55zM606.48 935.34h8.55v7h-8.55zM611.53 935.34h8.55v7h-8.55zM616.31 933.4h8.55v7h-8.55zM620.85 931.52h8.55v7h-8.55zM625.16 927.91h8.55v7h-8.55zM629.27 926.17h8.55v7h-8.55zM633.19 924.48h8.55v7h-8.55zM636.95 922.83h8.55v7h-8.55zM640.55 921.21h8.55v7h-8.55zM644.01 919.63h8.55v7h-8.55zM647.33 918.09h8.55v7h-8.55zM650.54 916.58h8.55v7h-8.55zM653.63 916.58h8.55v7h-8.55zM656.62 915.11h8.55v7h-8.55zM659.5 913.66h8.55v7h-8.55zM662.3 913.66h8.55v7h-8.55zM665 912.25h8.55v7h-8.55zM667.63 912.25h8.55v7h-8.55zM670.17 910.86h8.55v7h-8.55zM672.65 909.5h8.55v7h-8.55zM675.05 908.17h8.55v7h-8.55zM677.39 908.17h8.55v7h-8.55zM679.67 906.86h8.55v7h-8.55zM681.89 905.58h8.55v7h-8.55zM684.06 905.58h8.55v7h-8.55zM686.17 904.32h8.55v7h-8.55zM688.23 903.09h8.55v7h-8.55zM690.24 901.87h8.55v7h-8.55zM692.21 901.87h8.55v7h-8.55zM694.13 900.68h8.55v7h-8.55zM696.01 899.51h8.55v7h-8.55zM697.85 899.51h8.55v7h-8.55zM699.65 898.35h8.55v7h-8.55zM701.41 898.35h8.55v7h-8.55z" fill="#000000"/>
<path d="M83.27 1131.74h8.55v7h-8.55zM357.89 1003.3h8.55v7h-8.55zM417.7 1003.3h8.55v7h-8.55zM453.19 989.05h8.55v7h-8.55zM478.5 989.05h8.55v7h-8.55zM498.19 980.97h8.55v7h-8.55zM514.3 970.39h8.55v7h-8.55zM527.93 967.2h8.55v7h-8.55zM539.75 964.15h8.55v7h-8.55zM550.18 961.23h8.55v7h-8.55zM559.51 955.73h8.55v7h-8.55zM567.95 953.14h8.55v7h-8.55zM575.65 953.14h8.55v7h-8.55zM582.74 950.65h8.55v7h-8.55zM589.3 948.24h8.55v7h-8.55zM595.41 945.91h8.55v7h-8.55zM601.12 943.66h8.55v7h-8.55zM606.48 941.49h8.55v7h-8.55zM611.53 939.37h8.55v7h-8.55zM616.31 937.33h8.55v7h-8.55zM620.85 935.34h8.55v7h-8.55zM625.16 933.4h8.55v7h-8.55zM629.27 931.52h8.55v7h-8.55zM633.19 927.91h8.55v7h-8.55zM636.95 926.17h8.55v7h-8.55zM640.55 924.48h8.55v7h-8.55zM644.01 922.83h8.55v7h-8.55zM647.33 922.83h8.55v7h-8.55zM650.54 921.21h8.55v7h-8.55zM653.63 919.63h8.55v7h-8.55zM656.62 919.63h8.55v7h-8.55zM659.5 918.09h8.55v7h-8.55zM662.3 916.58h8.55v7h-8.55zM665 916.58h8.55v7h-8.55zM667.63 915.11h8.55v7h-8.55zM670.17 915.11h8.55v7h-8.55zM672.65 913.66h8.55v7h-8.55zM675.05 912.25h8.55v7h-8.55zM677.39 910.86h8.55v7h-8.55zM679.67 910.86h8.55v7h-8.55zM681.89 909.5h8.55v7h-8.55zM684.06 909.5h8.55v7h-8.55zM686.17 908.17h8.55v7h-8.55zM688.23 906.86h8.55v7h-8.55zM690.24 906.86h8.55v7h-8.55zM692.21 905.58h8.55v7h-8.55zM694.13 904.32h8.55v7h-8.55zM696.01 904.32h8.55v7h-8.55zM697.85 903.09h8.55v7h-8.55zM699.65 903.09h8.55v7h-8.55zM701.41 901.87h8.55v7h-8.55z" fill="#ff0000"/>
<path d="M83.27 1068.86h8.55v7h-8.55zM357.89 1008.79h8.55v7h-8.55zM417.7 1014.76h8.55v7h-8.55zM453.19 998.21h8.55v7h-8.55zM478.5 993.48h8.55v7h-8.55zM498.19 984.89h8.55v7h-8.55zM514.3 977.26h8.55v7h-8.55zM527.93 973.74h8.55v7h-8.55zM539.75 970.39h8.55v7h-8.55zM550.18 967.2h8.55v7h-8.55zM559.51 961.23h8.55v7h-8.55zM567.95 958.43h8.55v7h-8.55zM575.65 958.43h8.55v7h-8.55zM582.74 955.73h8.55v7h-8.55zM589.3 953.14h8.55v7h-8.55zM595.41 950.65h8.55v7h-8.55zM601.12 948.24h8.55v7h-8.55zM606.48 945.91h8.55v7h-8.55zM611.53 943.66h8.55v7h-8.55zM616.31 941.49h8.55v7h-8.55zM620.85 939.37h8.55v7h-8.55zM625.16 937.33h8.55v7h-8.55zM629.27 935.34h8.55v7h-8.55zM633.19 933.4h8.55v7h-8.55zM636.95 931.52h8.55v7h-8.55zM640.55 929.69h8.55v7h-8.55zM644.01 927.91h8.55v7h-8.55zM647.33 927.91h8.55v7h-8.55zM650.54 926.17h8.55v7h-8.55zM653.63 924.48h8.55v7h-8.55zM656.62 924.48h8.55v7h-8.55zM659.5 922.83h8.55v7h-8.55zM662.3 921.21h8.55v7h-8.55zM665 921.21h8.55v7h-8.55zM667.63 919.63h8.55v7h-8.55zM670.17 919.63h8.55v7h-8.55zM672.65 918.09h8.55v7h-8.55zM675.05 916.58h8.55v7h-8.55zM677.39 916.58h8.55v7h-8.55zM679.67 915.11h8.55v7h-8.55zM681.89 913.66h8.55v7h-8.55zM684.06 913.66h8.55v7h-8.55zM686.17 912.25h8.55v7h-8.55zM688.23 910.86h8.55v7h-8.55zM690.24 910.86h8.55v7h-8.55zM692.21 909.5h8.55v7h-8.55zM694.13 908.17h8.55v7h-8.55zM696.01 908.17h8.55v7h-8.55zM697.85 906.86h8.55v7h-8.55zM699.65 906.86h8.55v7h-8.55zM701.41 905.58h8.55v7h-8.55z" fill="#00ff00"/>
<path d="M83.27 989.05h8.55v7h-8.55zM357.89 1021.3h8.55v7h-8.55zM417.7 1008.79h8.55v7h-8.55zM453.19 1003.3h8.55v7h-8.55zM478.5 1003.3h8.55v7h-8.55zM498.19 993.48h8.55v7h-8.55zM514.3 984.89h8.55v7h-8.55zM527.93 980.97h8.55v7h-8.55zM539.75 977.26h8.55v7h-8.55zM550.18 973.74h8.55v7h-8.55zM559.51 973.74h8.55v7h-8.55zM567.95 970.39h8.55v7h-8.55zM575.65 967.2h8.55v7h-8.55zM582.74 964.15h8.55v7h-8.55zM589.3 961.23h8.55v7h-8.55zM595.41 958.43h8.55v7h-8.55zM601.12 955.73h8.55v7h-8.55zM606.48 953.14h8.55v7h-8.55zM611.53 953.14h8.55v7h-8.55zM616.31 950.65h8.55v7h-8.55zM620.85 948.24h8.55v7h-8.55zM625.16 945.91h8.55v7h-8.55zM629.27 943.66h8.55v7h-8.55zM633.19 943.66h8.55v7h-8.55zM636.95 941.49h8.55v7h-8.55zM640.55 941.49h8.55v7h-8.55zM644.01 939.37h8.55v7h-8.55zM647.33 937.33h8.55v7h-8.55zM650.54 935.34h8.55v7h-8.55zM653.63 933.4h8.55v7h-8.55zM656.62 933.4h8.55v7h-8.55zM659.5 931.52h8.55v7h-8.55zM662.3 931.52h8.55v7h-8.55zM665 929.69h8.55v7h-8.55zM667.63 929.69h8.55v7h-8.55zM670.17 927.91h8.55v7h-8.55zM672.65 926.17h8.55v7h-8.55zM675.05 926.17h8.55v7h-8.55zM677.39 924.48h8.55v7h-8.55zM679.67 924.48h8.55v7h-8.55zM681.89 922.83h8.55v7h-8.55zM684.06 922.83h8.55v7h-8.55zM686.17 921.21h8.55v7h-8.55zM688.23 921.21h8.55v7h-8.55zM690.24 919.63h8.55v7h-8.55zM692.21 919.63h8.55v7h-8.55zM694.13 918.09h8.55v7h-8.55zM696.01 918.09h8.55v7h-8.55zM697.85 916.58h8.55v7h-8.55zM699.65 916.58h8.55v7h-8.55zM701.41 915.11h8.55v7h-8.55z" fill="#0000ff"/>
</g>
<text transform="translate(74.98 870.2) scale(1.3014 1)" font-family='"Liberation Sans", Arial, Helvetica, sans-serif' font-size="12" font-weight="700" text-anchor="end" fill="#141414" stroke="#141414" stroke-width="0.3" stroke-linejoin="round">10</text><path transform="translate(74.98 870.2) scale(1.3014 1)" d="M-13.54 -2.12H-10.70V1.15H-13.54zM-8.75 -2.12H-6.06V1.15H-8.75z" fill="#ffffff"/>
<text transform="translate(75.28 1028.2) scale(1.3014 1)" font-family='"Liberation Sans", Arial, Helvetica, sans-serif' font-size="12" font-weight="700" text-anchor="end" fill="#141414" stroke="#141414" stroke-width="0.3" stroke-linejoin="round">1</text><path transform="translate(75.28 1028.2) scale(1.3014 1)" d="M-6.87 -2.12H-4.02V1.15H-6.87zM-2.08 -2.12H0.62V1.15H-2.08z" fill="#ffffff"/>
<text transform="translate(75.58 1186.2) scale(1.3014 1)" font-family='"Liberation Sans", Arial, Helvetica, sans-serif' font-size="12" font-weight="700" text-anchor="end" fill="#141414" stroke="#141414" stroke-width="0.3" stroke-linejoin="round">0,1</text><path transform="translate(75.58 1186.2) scale(1.3014 1)" d="M-6.87 -2.12H-4.02V1.15H-6.87zM-2.08 -2.12H0.62V1.15H-2.08z" fill="#ffffff"/>
<text transform="translate(88.9 1203.35) scale(1.3014 1)" font-family='"Liberation Sans", Arial, Helvetica, sans-serif' font-size="12" font-weight="700" text-anchor="middle" fill="#141414" stroke="#141414" stroke-width="0.3" stroke-linejoin="round">1</text><path transform="translate(88.9 1203.35) scale(1.3014 1)" d="M-3.53 -2.12H-0.69V1.15H-3.53zM1.26 -2.12H3.95V1.15H1.26z" fill="#ffffff"/>
<text transform="translate(294.7 1203.35) scale(1.3014 1)" font-family='"Liberation Sans", Arial, Helvetica, sans-serif' font-size="12" font-weight="700" text-anchor="middle" fill="#141414" stroke="#141414" stroke-width="0.3" stroke-linejoin="round">10</text><path transform="translate(294.7 1203.35) scale(1.3014 1)" d="M-6.87 -2.12H-4.02V1.15H-6.87zM-2.08 -2.12H0.62V1.15H-2.08z" fill="#ffffff"/>
<text transform="translate(500.5 1203.35) scale(1.3014 1)" font-family='"Liberation Sans", Arial, Helvetica, sans-serif' font-size="12" font-weight="700" text-anchor="middle" fill="#141414" stroke="#141414" stroke-width="0.3" stroke-linejoin="round">100</text><path transform="translate(500.5 1203.35) scale(1.3014 1)" d="M-10.20 -2.12H-7.36V1.15H-10.20zM-5.41 -2.12H-2.72V1.15H-5.41z" fill="#ffffff"/>
<text transform="translate(706.3 1203.35) scale(1.3014 1)" font-family='"Liberation Sans", Arial, Helvetica, sans-serif' font-size="12" font-weight="700" text-anchor="middle" fill="#141414" stroke="#141414" stroke-width="0.3" stroke-linejoin="round">1000</text><path transform="translate(706.3 1203.35) scale(1.3014 1)" d="M-13.54 -2.12H-10.70V1.15H-13.54zM-8.75 -2.12H-6.06V1.15H-8.75z" fill="#ffffff"/>
<text transform="translate(401.2 1230.7) scale(1.2347 1)" font-family='"Liberation Sans", Arial, Helvetica, sans-serif' font-size="16" font-weight="700" text-anchor="middle" fill="#141414" stroke="#141414" stroke-width="0.3" stroke-linejoin="round">Shear rate (1/s)</text><path transform="translate(401.2 1230.7) scale(1.2347 1)" d="M30.29 -2.53H33.82V1.15H30.29zM36.31 -2.53H39.64V1.15H36.31z" fill="#ffffff"/>
<text transform="translate(44.51 1024.8) rotate(-90) scale(1 1.2177)" font-family='"Liberation Sans", Arial, Helvetica, sans-serif' font-size="16.45" font-weight="700" text-anchor="middle" fill="#141414" stroke="#141414" stroke-width="0.25" stroke-linejoin="round">Viscosity (cp)</text>
<rect x="103.97" y="868.5" width="89.7" height="89" fill="#ffffff" stroke="#a9a9a9" stroke-width="1"/>
<rect x="122.19" y="878.4" width="8.55" height="7" fill="#000000"/>
<text transform="translate(151.94 886.3) scale(1.3924 1)" font-family='"Liberation Sans", Arial, Helvetica, sans-serif' font-size="12.4" font-weight="700" text-anchor="start" fill="#141414" stroke="#141414" stroke-width="0.4" stroke-linejoin="round">25°C</text>
<rect x="122.19" y="900.05" width="8.55" height="7" fill="#ff0000"/>
<text transform="translate(151.94 907.95) scale(1.3924 1)" font-family='"Liberation Sans", Arial, Helvetica, sans-serif' font-size="12.4" font-weight="700" text-anchor="start" fill="#141414" stroke="#141414" stroke-width="0.4" stroke-linejoin="round">35°C</text>
<rect x="122.19" y="921.7" width="8.55" height="7" fill="#00ff00"/>
<text transform="translate(151.94 929.6) scale(1.3924 1)" font-family='"Liberation Sans", Arial, Helvetica, sans-serif' font-size="12.4" font-weight="700" text-anchor="start" fill="#141414" stroke="#141414" stroke-width="0.4" stroke-linejoin="round">45°C</text>
<rect x="122.19" y="943.35" width="8.55" height="7" fill="#0000ff"/>
<text transform="translate(151.94 951.25) scale(1.3924 1)" font-family='"Liberation Sans", Arial, Helvetica, sans-serif' font-size="12.4" font-weight="700" text-anchor="start" fill="#141414" stroke="#141414" stroke-width="0.4" stroke-linejoin="round">55°C</text>
<text transform="translate(372.5 1269.4)" font-family='"Liberation Sans", Arial, Helvetica, sans-serif' font-size="27.3" font-weight="700" text-anchor="middle" fill="#111" stroke="#111" stroke-width="0.3" stroke-linejoin="round">(c)</text>
</g>
</g>
</svg>
</body></html>
